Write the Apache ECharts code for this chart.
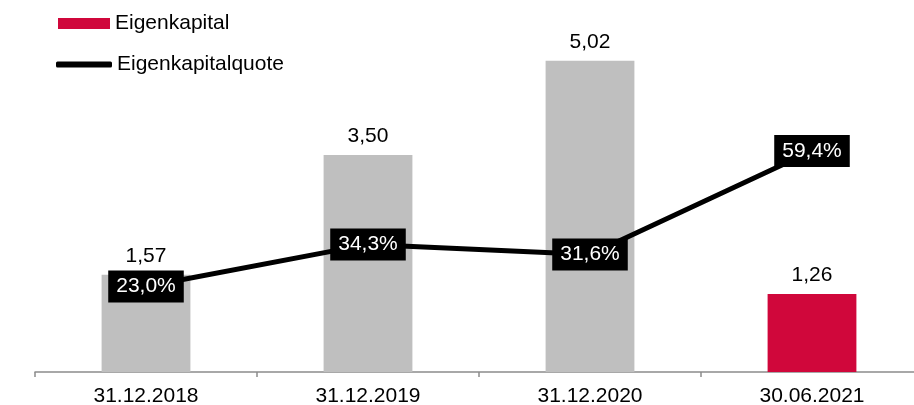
<!DOCTYPE html>
<html>
<head>
<meta charset="utf-8">
<script src="https://cdn.jsdelivr.net/npm/echarts@6/dist/echarts.min.js"></script>
<style>
  html, body { margin: 0; padding: 0; background: #fff; }
  #chart { width: 914px; height: 405px; }
</style>
</head>
<body>
<div id="chart"></div>
<script>
// Stichtage, Eigenkapital (Mio.) und Eigenkapitalquote (%)
var categories = ['31.12.2018', '31.12.2019', '31.12.2020', '30.06.2021'];
var equity = [1.57, 3.50, 5.02, 1.26];
var equityRatio = [23.0, 34.3, 31.6, 59.4];

var GREY = '#BFBFBF';
var RED = '#D0073B';
var FONT = '"Liberation Sans", Arial, sans-serif';

function deNumber(v, digits) {
  return v.toFixed(digits).replace('.', ',');
}

var barData = equity.map(function (v, i) {
  return {
    value: v,
    itemStyle: { color: i === equity.length - 1 ? RED : GREY }
  };
});

var chart = echarts.init(document.getElementById('chart'));
chart.setOption({
  animation: false,
  textStyle: { fontFamily: FONT },
  // the category axis runs past the right edge of the canvas
  grid: { left: 35, top: 0, right: -9, height: 372, outerBoundsMode: 'none', containLabel: false },
  legend: [
    {
      data: ['Eigenkapital'],
      left: 58, top: 13, padding: 0,
      icon: 'rect',
      itemWidth: 52, itemHeight: 11,
      textStyle: { fontSize: 21, color: '#000', fontFamily: FONT }
    },
    {
      data: ['Eigenkapitalquote'],
      left: 56, top: 54, padding: 0,
      icon: 'roundRect',
      itemWidth: 56, itemHeight: 6,
      textStyle: { fontSize: 21, color: '#000', fontFamily: FONT }
    }
  ],
  xAxis: {
    type: 'category',
    data: categories,
    boundaryGap: true,
    axisLine: { lineStyle: { color: '#8C8C8C', width: 1.5 } },
    axisTick: { show: true, length: 5, lineStyle: { color: '#8C8C8C', width: 1.5 } },
    axisLabel: { fontSize: 21, color: '#000', margin: 14, fontFamily: FONT },
    splitLine: { show: false }
  },
  yAxis: [
    { type: 'value', min: 0, max: 6, show: false, splitLine: { show: false } },
    { type: 'value', min: 0, max: 100, show: false, splitLine: { show: false } }
  ],
  series: [
    {
      name: 'Eigenkapital',
      type: 'bar',
      yAxisIndex: 0,
      barWidth: '40%',
      itemStyle: { color: RED },
      data: barData,
      label: {
        show: true,
        position: 'top',
        distance: 8,
        fontSize: 21,
        color: '#000',
        fontFamily: FONT,
        formatter: function (p) { return deNumber(p.value, 2); }
      }
    },
    {
      name: 'Eigenkapitalquote',
      type: 'line',
      yAxisIndex: 1,
      data: equityRatio,
      symbol: 'rect',
      symbolSize: 1,
      lineStyle: { color: '#000', width: 5 },
      itemStyle: { color: '#000' },
      z: 5,
      label: {
        show: true,
        position: 'inside',
        backgroundColor: '#000',
        color: '#fff',
        fontSize: 21,
        fontFamily: FONT,
        padding: [6, 8, 5, 8],
        formatter: function (p) { return deNumber(p.value, 1) + '%'; }
      }
    }
  ]
});
</script>
</body>
</html>
